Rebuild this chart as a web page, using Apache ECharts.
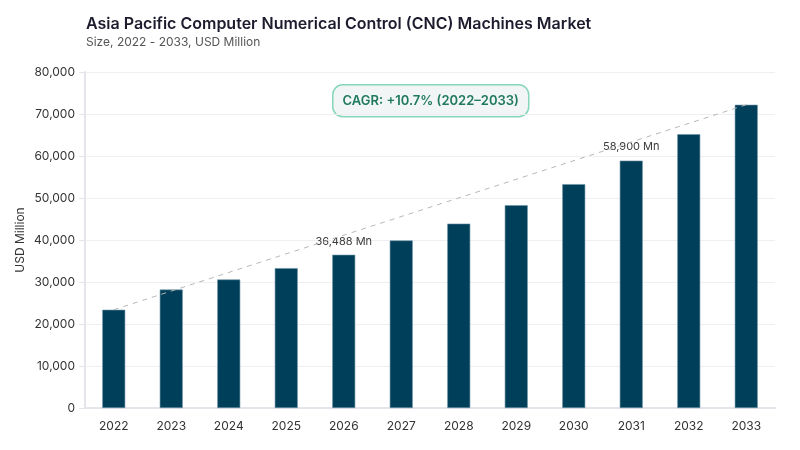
<!DOCTYPE html>
<html>
<head>
<meta charset="utf-8">
<script src="https://cdn.jsdelivr.net/npm/echarts@6/dist/echarts.min.js"></script>
<style>
	html, body { margin: 0; padding: 0; background: #fff; }
	#chart { width: 800px; height: 450px; }
</style>
</head>
<body>
<div id="chart"></div>
<script>
	var years = ['2022', '2023', '2024', '2025', '2026', '2027', '2028', '2029', '2030', '2031', '2032', '2033'];
	var marketSize = [23400, 28200, 30600, 33300, 36488, 39900, 43900, 48300, 53300, 58900, 65200, 72200];
	// bars that carry a value label
	var labelled = ['2026', '2031'];
	var cagrText = 'CAGR: +10.7% (2022–2033)';

	var fontFamily = 'Inter, "Noto Sans", sans-serif';

	var barData = marketSize.map(function (v, i) {
		var item = { value: v };
		if (labelled.indexOf(years[i]) >= 0) {
			item.label = {
				show: true,
				position: 'top',
				distance: 8,
				formatter: function (p) { return p.value.toLocaleString('en-US') + ' Mn'; },
				color: '#3a3a3a',
				fontSize: 11,
				fontFamily: fontFamily
			};
		}
		return item;
	});

	var option = {
		backgroundColor: '#ffffff',
		animation: false,
		title: {
			text: 'Asia Pacific Computer Numerical Control (CNC) Machines Market',
			subtext: 'Size, 2022 - 2033, USD Million',
			left: 81,
			top: 11,
			itemGap: 4,
			textStyle: { fontFamily: fontFamily, fontSize: 16, fontWeight: 600, color: '#1c1c2e' },
			subtextStyle: { fontFamily: fontFamily, fontSize: 12, color: '#555' }
		},
		grid: { left: 85, right: 25, top: 72, bottom: 42 },
		xAxis: {
			type: 'category',
			data: years,
			axisLine: { lineStyle: { color: '#e4e4ea', width: 2 } },
			axisTick: { show: false },
			axisLabel: { color: '#333', fontSize: 12, fontFamily: fontFamily, margin: 12 }
		},
		yAxis: {
			type: 'value',
			min: 0,
			max: 80000,
			interval: 10000,
			name: 'USD Million',
			nameLocation: 'middle',
			nameGap: 59,
			nameMoveOverlap: false,
			nameTextStyle: { color: '#333', fontSize: 12, fontFamily: fontFamily },
			axisLine: { show: true, lineStyle: { color: '#e4e4ea', width: 2 } },
			axisTick: { show: true, length: 6, lineStyle: { color: '#e4e4ea' } },
			axisLabel: {
				color: '#333', fontSize: 12, fontFamily: fontFamily, margin: 10,
				formatter: function (v) { return v.toLocaleString('en-US'); }
			},
			splitLine: { lineStyle: { color: '#efeff2', width: 1 } }
		},
		series: [{
			type: 'bar',
			data: barData,
			barWidth: '40%',
			itemStyle: { color: '#003f5a', borderColor: '#6f94a6', borderWidth: 0.6 },
			markLine: {
				silent: true,
				symbol: 'none',
				label: { show: false },
				lineStyle: { color: '#b8b8b8', type: [5, 5], width: 1 },
				data: [[
					{ coord: [years[0], marketSize[0]] },
					{ coord: [years[years.length - 1], marketSize[marketSize.length - 1]] }
				]]
			}
		}],
		graphic: [{
			type: 'group',
			left: 332,
			top: 84,
			children: [{
				type: 'rect',
				shape: { x: 0, y: 0, width: 196, height: 32, r: 10 },
				style: { fill: '#f1f5f5', stroke: '#86d6bb', lineWidth: 1.5 }
			}, {
				type: 'text',
				x: 98,
				y: 16,
				style: {
					text: cagrText,
					align: 'center',
					verticalAlign: 'middle',
					fill: '#1f7a5c',
					fontSize: 13,
					fontWeight: 600,
					fontFamily: fontFamily
				}
			}]
		}]
	};

	var myChart = echarts.init(document.getElementById('chart'));
	myChart.setOption(option);
	//窗口变动，表格刷新
	window.addEventListener('resize', function () { myChart.resize(); });
</script>
</body>
</html>
